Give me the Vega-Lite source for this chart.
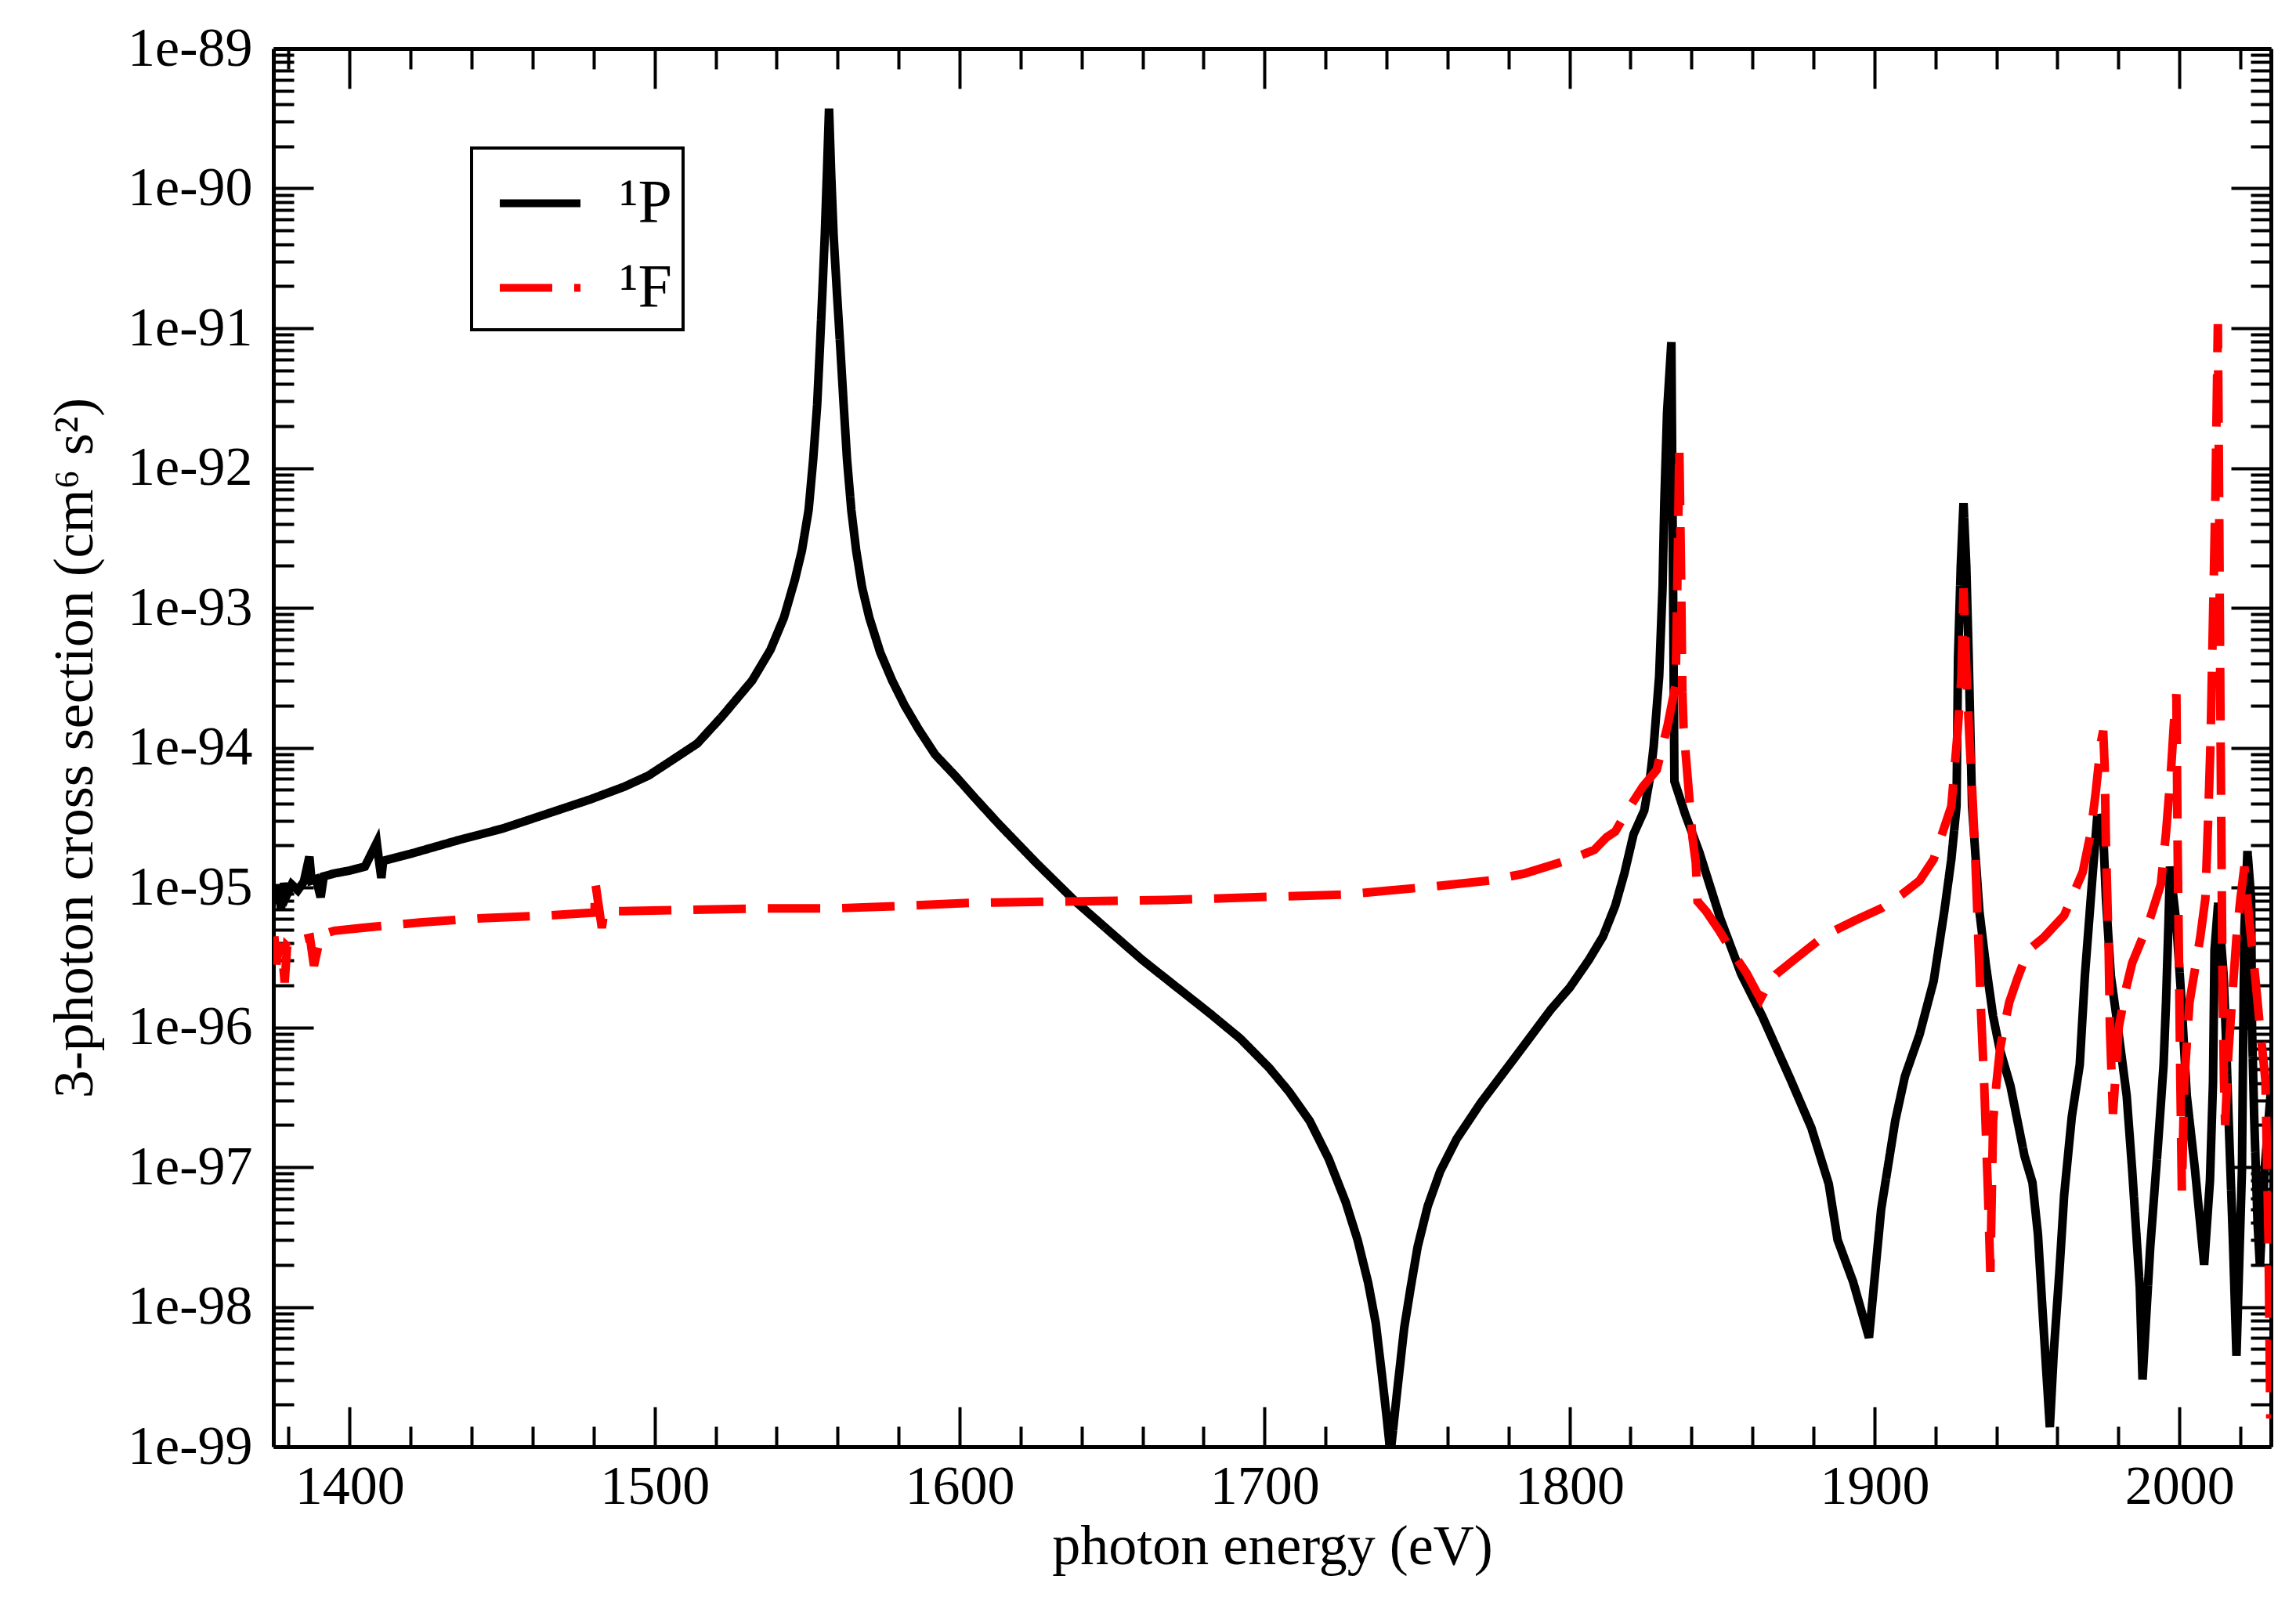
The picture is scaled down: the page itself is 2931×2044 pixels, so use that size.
{
  "$schema": "https://vega.github.io/schema/vega-lite/v6.json",
  "autosize": {"type": "none"},
  "padding": {"left": 349, "top": 62, "right": 32, "bottom": 197},
  "width": 2550,
  "height": 1785,
  "background": "white",
  "datasets": {
    "P": [
      {"E": 1375.5, "s": 7.59e-96, "state": "¹P"},
      {"E": 1376.5, "s": 1.05e-95, "state": "¹P"},
      {"E": 1377.5, "s": 7.08e-96, "state": "¹P"},
      {"E": 1378.5, "s": 1.07e-95, "state": "¹P"},
      {"E": 1379.5, "s": 8.91e-96, "state": "¹P"},
      {"E": 1381, "s": 1.05e-95, "state": "¹P"},
      {"E": 1383, "s": 9.55e-96, "state": "¹P"},
      {"E": 1385, "s": 1.10e-95, "state": "¹P"},
      {"E": 1386.8, "s": 1.66e-95, "state": "¹P"},
      {"E": 1387.5, "s": 1.12e-95, "state": "¹P"},
      {"E": 1389, "s": 1.15e-95, "state": "¹P"},
      {"E": 1390.5, "s": 8.51e-96, "state": "¹P"},
      {"E": 1391.5, "s": 1.20e-95, "state": "¹P"},
      {"E": 1395, "s": 1.26e-95, "state": "¹P"},
      {"E": 1400, "s": 1.32e-95, "state": "¹P"},
      {"E": 1405, "s": 1.41e-95, "state": "¹P"},
      {"E": 1408.9, "s": 2.09e-95, "state": "¹P"},
      {"E": 1409.7, "s": 1.51e-95, "state": "¹P"},
      {"E": 1410.4, "s": 1.17e-95, "state": "¹P"},
      {"E": 1411, "s": 1.55e-95, "state": "¹P"},
      {"E": 1420, "s": 1.74e-95, "state": "¹P"},
      {"E": 1436, "s": 2.19e-95, "state": "¹P"},
      {"E": 1450, "s": 2.63e-95, "state": "¹P"},
      {"E": 1461, "s": 3.16e-95, "state": "¹P"},
      {"E": 1479, "s": 4.27e-95, "state": "¹P"},
      {"E": 1490, "s": 5.25e-95, "state": "¹P"},
      {"E": 1498, "s": 6.31e-95, "state": "¹P"},
      {"E": 1505, "s": 7.94e-95, "state": "¹P"},
      {"E": 1514, "s": 1.07e-94, "state": "¹P"},
      {"E": 1522, "s": 1.66e-94, "state": "¹P"},
      {"E": 1532, "s": 3.02e-94, "state": "¹P"},
      {"E": 1538, "s": 5.01e-94, "state": "¹P"},
      {"E": 1542.4, "s": 8.51e-94, "state": "¹P"},
      {"E": 1546, "s": 1.59e-93, "state": "¹P"},
      {"E": 1548.3, "s": 2.57e-93, "state": "¹P"},
      {"E": 1550.5, "s": 5.01e-93, "state": "¹P"},
      {"E": 1552, "s": 1.15e-92, "state": "¹P"},
      {"E": 1553.3, "s": 2.82e-92, "state": "¹P"},
      {"E": 1554.2, "s": 7.24e-92, "state": "¹P"},
      {"E": 1555, "s": 1.78e-91, "state": "¹P"},
      {"E": 1555.8, "s": 4.57e-91, "state": "¹P"},
      {"E": 1556.5, "s": 1.26e-90, "state": "¹P"},
      {"E": 1557.2, "s": 3.72e-90, "state": "¹P"},
      {"E": 1557.9, "s": 1.26e-90, "state": "¹P"},
      {"E": 1558.7, "s": 4.57e-91, "state": "¹P"},
      {"E": 1559.8, "s": 1.78e-91, "state": "¹P"},
      {"E": 1560.9, "s": 7.24e-92, "state": "¹P"},
      {"E": 1562, "s": 2.82e-92, "state": "¹P"},
      {"E": 1563.1, "s": 1.15e-92, "state": "¹P"},
      {"E": 1564.5, "s": 5.01e-93, "state": "¹P"},
      {"E": 1566.1, "s": 2.57e-93, "state": "¹P"},
      {"E": 1568, "s": 1.41e-93, "state": "¹P"},
      {"E": 1570.4, "s": 8.51e-94, "state": "¹P"},
      {"E": 1574, "s": 4.79e-94, "state": "¹P"},
      {"E": 1577.9, "s": 3.02e-94, "state": "¹P"},
      {"E": 1582, "s": 2.00e-94, "state": "¹P"},
      {"E": 1586.6, "s": 1.35e-94, "state": "¹P"},
      {"E": 1592, "s": 8.91e-95, "state": "¹P"},
      {"E": 1598.5, "s": 6.31e-95, "state": "¹P"},
      {"E": 1605, "s": 4.37e-95, "state": "¹P"},
      {"E": 1613, "s": 2.82e-95, "state": "¹P"},
      {"E": 1625, "s": 1.51e-95, "state": "¹P"},
      {"E": 1638, "s": 7.94e-96, "state": "¹P"},
      {"E": 1650, "s": 4.68e-96, "state": "¹P"},
      {"E": 1660, "s": 3.02e-96, "state": "¹P"},
      {"E": 1671, "s": 1.95e-96, "state": "¹P"},
      {"E": 1682, "s": 1.26e-96, "state": "¹P"},
      {"E": 1692, "s": 8.32e-97, "state": "¹P"},
      {"E": 1701.5, "s": 5.13e-97, "state": "¹P"},
      {"E": 1708, "s": 3.47e-97, "state": "¹P"},
      {"E": 1714.8, "s": 2.14e-97, "state": "¹P"},
      {"E": 1721, "s": 1.15e-97, "state": "¹P"},
      {"E": 1726.6, "s": 5.62e-98, "state": "¹P"},
      {"E": 1730.5, "s": 3.02e-98, "state": "¹P"},
      {"E": 1734, "s": 1.48e-98, "state": "¹P"},
      {"E": 1736.5, "s": 7.59e-99, "state": "¹P"},
      {"E": 1738.4, "s": 3.39e-99, "state": "¹P"},
      {"E": 1740, "s": 1.66e-99, "state": "¹P"},
      {"E": 1741.3, "s": 8.91e-100, "state": "¹P"},
      {"E": 1743.5, "s": 2.51e-99, "state": "¹P"},
      {"E": 1745.8, "s": 7.08e-99, "state": "¹P"},
      {"E": 1748, "s": 1.41e-98, "state": "¹P"},
      {"E": 1750.2, "s": 2.69e-98, "state": "¹P"},
      {"E": 1753.5, "s": 5.25e-98, "state": "¹P"},
      {"E": 1757.6, "s": 9.33e-98, "state": "¹P"},
      {"E": 1763, "s": 1.59e-97, "state": "¹P"},
      {"E": 1770.9, "s": 2.88e-97, "state": "¹P"},
      {"E": 1782, "s": 6.03e-97, "state": "¹P"},
      {"E": 1794, "s": 1.35e-96, "state": "¹P"},
      {"E": 1800, "s": 1.91e-96, "state": "¹P"},
      {"E": 1806.3, "s": 3.02e-96, "state": "¹P"},
      {"E": 1811, "s": 4.47e-96, "state": "¹P"},
      {"E": 1815, "s": 7.41e-96, "state": "¹P"},
      {"E": 1818, "s": 1.26e-95, "state": "¹P"},
      {"E": 1821, "s": 2.40e-95, "state": "¹P"},
      {"E": 1824.5, "s": 3.55e-95, "state": "¹P"},
      {"E": 1826.5, "s": 6.31e-95, "state": "¹P"},
      {"E": 1827.6, "s": 1.02e-94, "state": "¹P"},
      {"E": 1829.4, "s": 3.24e-94, "state": "¹P"},
      {"E": 1830.5, "s": 1.38e-93, "state": "¹P"},
      {"E": 1831.1, "s": 5.75e-93, "state": "¹P"},
      {"E": 1832, "s": 2.51e-92, "state": "¹P"},
      {"E": 1833.4, "s": 7.94e-92, "state": "¹P"},
      {"E": 1834.4, "s": 5.75e-95, "state": "¹P"},
      {"E": 1836.2, "s": 4.37e-95, "state": "¹P"},
      {"E": 1838, "s": 3.31e-95, "state": "¹P"},
      {"E": 1842.6, "s": 1.78e-95, "state": "¹P"},
      {"E": 1849.4, "s": 6.03e-96, "state": "¹P"},
      {"E": 1856.3, "s": 2.40e-96, "state": "¹P"},
      {"E": 1863.2, "s": 1.20e-96, "state": "¹P"},
      {"E": 1872.4, "s": 4.27e-97, "state": "¹P"},
      {"E": 1879.3, "s": 1.91e-97, "state": "¹P"},
      {"E": 1885, "s": 7.59e-98, "state": "¹P"},
      {"E": 1887.9, "s": 3.02e-98, "state": "¹P"},
      {"E": 1893, "s": 1.51e-98, "state": "¹P"},
      {"E": 1898.2, "s": 6.03e-99, "state": "¹P"},
      {"E": 1902.2, "s": 5.01e-98, "state": "¹P"},
      {"E": 1906.8, "s": 2.14e-97, "state": "¹P"},
      {"E": 1910, "s": 4.47e-97, "state": "¹P"},
      {"E": 1914.8, "s": 8.91e-97, "state": "¹P"},
      {"E": 1919.4, "s": 2.14e-96, "state": "¹P"},
      {"E": 1922.9, "s": 6.76e-96, "state": "¹P"},
      {"E": 1925.2, "s": 1.59e-95, "state": "¹P"},
      {"E": 1926.9, "s": 3.80e-95, "state": "¹P"},
      {"E": 1927.4, "s": 4.37e-94, "state": "¹P"},
      {"E": 1928.3, "s": 2.00e-93, "state": "¹P"},
      {"E": 1929.2, "s": 5.62e-93, "state": "¹P"},
      {"E": 1930.1, "s": 2.00e-93, "state": "¹P"},
      {"E": 1930.9, "s": 4.37e-94, "state": "¹P"},
      {"E": 1932, "s": 3.80e-95, "state": "¹P"},
      {"E": 1934.4, "s": 6.76e-96, "state": "¹P"},
      {"E": 1936.5, "s": 2.82e-96, "state": "¹P"},
      {"E": 1938.9, "s": 1.20e-96, "state": "¹P"},
      {"E": 1941, "s": 7.08e-97, "state": "¹P"},
      {"E": 1944.6, "s": 3.80e-97, "state": "¹P"},
      {"E": 1949.2, "s": 1.20e-97, "state": "¹P"},
      {"E": 1951.8, "s": 7.76e-98, "state": "¹P"},
      {"E": 1953.6, "s": 3.31e-98, "state": "¹P"},
      {"E": 1955.4, "s": 7.41e-99, "state": "¹P"},
      {"E": 1957.5, "s": 1.38e-99, "state": "¹P"},
      {"E": 1958.8, "s": 4.79e-99, "state": "¹P"},
      {"E": 1960.6, "s": 1.74e-98, "state": "¹P"},
      {"E": 1962.2, "s": 6.31e-98, "state": "¹P"},
      {"E": 1964.7, "s": 2.29e-97, "state": "¹P"},
      {"E": 1967.3, "s": 5.37e-97, "state": "¹P"},
      {"E": 1969, "s": 2.34e-96, "state": "¹P"},
      {"E": 1971.6, "s": 1.29e-95, "state": "¹P"},
      {"E": 1973.1, "s": 3.31e-95, "state": "¹P"},
      {"E": 1975, "s": 2.45e-95, "state": "¹P"},
      {"E": 1975.9, "s": 8.32e-96, "state": "¹P"},
      {"E": 1977.5, "s": 2.34e-96, "state": "¹P"},
      {"E": 1979.5, "s": 1.12e-96, "state": "¹P"},
      {"E": 1981.1, "s": 6.03e-97, "state": "¹P"},
      {"E": 1982.7, "s": 3.24e-97, "state": "¹P"},
      {"E": 1984.5, "s": 9.55e-98, "state": "¹P"},
      {"E": 1987, "s": 1.38e-98, "state": "¹P"},
      {"E": 1987.9, "s": 3.02e-99, "state": "¹P"},
      {"E": 1990.4, "s": 2.63e-98, "state": "¹P"},
      {"E": 1993, "s": 1.48e-97, "state": "¹P"},
      {"E": 1994.8, "s": 5.37e-97, "state": "¹P"},
      {"E": 1995.6, "s": 1.51e-96, "state": "¹P"},
      {"E": 1996.4, "s": 5.50e-96, "state": "¹P"},
      {"E": 1996.9, "s": 1.41e-95, "state": "¹P"},
      {"E": 1999, "s": 5.50e-96, "state": "¹P"},
      {"E": 2000.7, "s": 1.51e-96, "state": "¹P"},
      {"E": 2002.4, "s": 3.24e-97, "state": "¹P"},
      {"E": 2005.1, "s": 9.55e-98, "state": "¹P"},
      {"E": 2008.1, "s": 2.00e-98, "state": "¹P"},
      {"E": 2010, "s": 7.94e-98, "state": "¹P"},
      {"E": 2011, "s": 3.98e-97, "state": "¹P"},
      {"E": 2011.5, "s": 3.55e-96, "state": "¹P"},
      {"E": 2012.7, "s": 7.76e-96, "state": "¹P"},
      {"E": 2014.5, "s": 2.34e-96, "state": "¹P"},
      {"E": 2015.3, "s": 7.94e-97, "state": "¹P"},
      {"E": 2016.1, "s": 2.29e-97, "state": "¹P"},
      {"E": 2017.5, "s": 3.16e-98, "state": "¹P"},
      {"E": 2018.7, "s": 4.47e-99, "state": "¹P"},
      {"E": 2020.5, "s": 9.55e-98, "state": "¹P"},
      {"E": 2020.8, "s": 5.01e-97, "state": "¹P"},
      {"E": 2021.3, "s": 5.01e-96, "state": "¹P"},
      {"E": 2022.3, "s": 1.82e-95, "state": "¹P"},
      {"E": 2023.5, "s": 8.32e-96, "state": "¹P"},
      {"E": 2023.8, "s": 1.00e-96, "state": "¹P"},
      {"E": 2024.5, "s": 2.29e-97, "state": "¹P"},
      {"E": 2025.6, "s": 4.07e-98, "state": "¹P"},
      {"E": 2026.4, "s": 1.95e-98, "state": "¹P"},
      {"E": 2028, "s": 1.00e-97, "state": "¹P"},
      {"E": 2030, "s": 3.55e-97, "state": "¹P"}
    ],
    "F": [
      {"E": 1375.3, "s": 4.47e-96, "state": "¹F"},
      {"E": 1376, "s": 2.82e-96, "state": "¹F"},
      {"E": 1377, "s": 3.98e-96, "state": "¹F"},
      {"E": 1378, "s": 3.16e-96, "state": "¹F"},
      {"E": 1378.7, "s": 2.09e-96, "state": "¹F"},
      {"E": 1379.5, "s": 3.80e-96, "state": "¹F"},
      {"E": 1381, "s": 3.55e-96, "state": "¹F"},
      {"E": 1383, "s": 3.98e-96, "state": "¹F"},
      {"E": 1385, "s": 4.27e-96, "state": "¹F"},
      {"E": 1387, "s": 4.37e-96, "state": "¹F"},
      {"E": 1388.3, "s": 2.75e-96, "state": "¹F"},
      {"E": 1390.5, "s": 4.57e-96, "state": "¹F"},
      {"E": 1395, "s": 4.90e-96, "state": "¹F"},
      {"E": 1403.8, "s": 5.13e-96, "state": "¹F"},
      {"E": 1423, "s": 5.62e-96, "state": "¹F"},
      {"E": 1443.6, "s": 6.03e-96, "state": "¹F"},
      {"E": 1465.7, "s": 6.31e-96, "state": "¹F"},
      {"E": 1480.3, "s": 6.61e-96, "state": "¹F"},
      {"E": 1480.6, "s": 1.07e-95, "state": "¹F"},
      {"E": 1482.7, "s": 5.13e-96, "state": "¹F"},
      {"E": 1483.5, "s": 6.76e-96, "state": "¹F"},
      {"E": 1489.3, "s": 6.76e-96, "state": "¹F"},
      {"E": 1535, "s": 7.08e-96, "state": "¹F"},
      {"E": 1558.7, "s": 7.08e-96, "state": "¹F"},
      {"E": 1583.8, "s": 7.41e-96, "state": "¹F"},
      {"E": 1603, "s": 7.76e-96, "state": "¹F"},
      {"E": 1667.6, "s": 8.13e-96, "state": "¹F"},
      {"E": 1726.6, "s": 8.91e-96, "state": "¹F"},
      {"E": 1756.1, "s": 1.02e-95, "state": "¹F"},
      {"E": 1773.7, "s": 1.12e-95, "state": "¹F"},
      {"E": 1785.4, "s": 1.26e-95, "state": "¹F"},
      {"E": 1800.2, "s": 1.59e-95, "state": "¹F"},
      {"E": 1808.2, "s": 1.86e-95, "state": "¹F"},
      {"E": 1812.2, "s": 2.29e-95, "state": "¹F"},
      {"E": 1815, "s": 2.51e-95, "state": "¹F"},
      {"E": 1819, "s": 3.55e-95, "state": "¹F"},
      {"E": 1824, "s": 5.25e-95, "state": "¹F"},
      {"E": 1828.6, "s": 6.92e-95, "state": "¹F"},
      {"E": 1832.2, "s": 1.45e-94, "state": "¹F"},
      {"E": 1834.8, "s": 2.82e-94, "state": "¹F"},
      {"E": 1835.6, "s": 3.16e-93, "state": "¹F"},
      {"E": 1836, "s": 1.41e-92, "state": "¹F"},
      {"E": 1836.6, "s": 1.59e-93, "state": "¹F"},
      {"E": 1837, "s": 2.51e-94, "state": "¹F"},
      {"E": 1837.4, "s": 1.38e-94, "state": "¹F"},
      {"E": 1839.7, "s": 3.39e-95, "state": "¹F"},
      {"E": 1840.3, "s": 2.29e-95, "state": "¹F"},
      {"E": 1841.4, "s": 1.51e-95, "state": "¹F"},
      {"E": 1842, "s": 7.94e-96, "state": "¹F"},
      {"E": 1844.8, "s": 6.76e-96, "state": "¹F"},
      {"E": 1849.4, "s": 4.79e-96, "state": "¹F"},
      {"E": 1853, "s": 3.55e-96, "state": "¹F"},
      {"E": 1858, "s": 2.45e-96, "state": "¹F"},
      {"E": 1862.6, "s": 1.59e-96, "state": "¹F"},
      {"E": 1865, "s": 2.00e-96, "state": "¹F"},
      {"E": 1867.8, "s": 2.40e-96, "state": "¹F"},
      {"E": 1873.5, "s": 3.02e-96, "state": "¹F"},
      {"E": 1883.9, "s": 4.57e-96, "state": "¹F"},
      {"E": 1894.2, "s": 5.89e-96, "state": "¹F"},
      {"E": 1902.2, "s": 7.08e-96, "state": "¹F"},
      {"E": 1909, "s": 8.91e-96, "state": "¹F"},
      {"E": 1914.8, "s": 1.12e-95, "state": "¹F"},
      {"E": 1919.4, "s": 1.59e-95, "state": "¹F"},
      {"E": 1922.9, "s": 2.69e-95, "state": "¹F"},
      {"E": 1925.2, "s": 3.80e-95, "state": "¹F"},
      {"E": 1927, "s": 1.10e-94, "state": "¹F"},
      {"E": 1928.5, "s": 3.16e-94, "state": "¹F"},
      {"E": 1929.2, "s": 1.38e-93, "state": "¹F"},
      {"E": 1930.2, "s": 3.16e-94, "state": "¹F"},
      {"E": 1931.2, "s": 1.10e-94, "state": "¹F"},
      {"E": 1932, "s": 5.13e-95, "state": "¹F"},
      {"E": 1932.9, "s": 2.00e-95, "state": "¹F"},
      {"E": 1933.8, "s": 6.03e-96, "state": "¹F"},
      {"E": 1934.9, "s": 1.35e-96, "state": "¹F"},
      {"E": 1936, "s": 3.80e-97, "state": "¹F"},
      {"E": 1937.2, "s": 6.76e-98, "state": "¹F"},
      {"E": 1938, "s": 1.78e-98, "state": "¹F"},
      {"E": 1938.9, "s": 2.14e-97, "state": "¹F"},
      {"E": 1940, "s": 3.98e-97, "state": "¹F"},
      {"E": 1941.2, "s": 7.08e-97, "state": "¹F"},
      {"E": 1942.5, "s": 1.00e-96, "state": "¹F"},
      {"E": 1944.2, "s": 1.51e-96, "state": "¹F"},
      {"E": 1946.9, "s": 2.24e-96, "state": "¹F"},
      {"E": 1950.4, "s": 3.55e-96, "state": "¹F"},
      {"E": 1955.4, "s": 4.37e-96, "state": "¹F"},
      {"E": 1962.2, "s": 6.31e-96, "state": "¹F"},
      {"E": 1968.3, "s": 1.29e-95, "state": "¹F"},
      {"E": 1970.9, "s": 2.45e-95, "state": "¹F"},
      {"E": 1972.5, "s": 4.68e-95, "state": "¹F"},
      {"E": 1974.3, "s": 1.10e-94, "state": "¹F"},
      {"E": 1975, "s": 1.32e-94, "state": "¹F"},
      {"E": 1975.5, "s": 7.24e-95, "state": "¹F"},
      {"E": 1975.9, "s": 2.00e-95, "state": "¹F"},
      {"E": 1976.8, "s": 3.55e-96, "state": "¹F"},
      {"E": 1977.2, "s": 1.00e-96, "state": "¹F"},
      {"E": 1978.2, "s": 2.40e-97, "state": "¹F"},
      {"E": 1979.2, "s": 5.01e-97, "state": "¹F"},
      {"E": 1980.1, "s": 1.00e-96, "state": "¹F"},
      {"E": 1982.4, "s": 1.86e-96, "state": "¹F"},
      {"E": 1984.5, "s": 2.88e-96, "state": "¹F"},
      {"E": 1987.9, "s": 4.37e-96, "state": "¹F"},
      {"E": 1990.4, "s": 6.03e-96, "state": "¹F"},
      {"E": 1993.9, "s": 1.05e-95, "state": "¹F"},
      {"E": 1995.6, "s": 2.45e-95, "state": "¹F"},
      {"E": 1997.3, "s": 7.24e-95, "state": "¹F"},
      {"E": 1998.6, "s": 2.09e-94, "state": "¹F"},
      {"E": 1999, "s": 2.40e-94, "state": "¹F"},
      {"E": 1999.4, "s": 2.00e-95, "state": "¹F"},
      {"E": 1999.9, "s": 2.34e-96, "state": "¹F"},
      {"E": 2000.3, "s": 4.17e-97, "state": "¹F"},
      {"E": 2000.8, "s": 6.76e-98, "state": "¹F"},
      {"E": 2001.6, "s": 4.17e-97, "state": "¹F"},
      {"E": 2003.3, "s": 1.51e-96, "state": "¹F"},
      {"E": 2006.8, "s": 4.37e-96, "state": "¹F"},
      {"E": 2008.5, "s": 8.32e-96, "state": "¹F"},
      {"E": 2009.4, "s": 3.02e-95, "state": "¹F"},
      {"E": 2010.2, "s": 1.10e-94, "state": "¹F"},
      {"E": 2010.8, "s": 5.01e-94, "state": "¹F"},
      {"E": 2011.8, "s": 6.31e-93, "state": "¹F"},
      {"E": 2012.6, "s": 1.07e-91, "state": "¹F"},
      {"E": 2013, "s": 6.31e-93, "state": "¹F"},
      {"E": 2013.5, "s": 1.10e-94, "state": "¹F"},
      {"E": 2014.1, "s": 2.34e-96, "state": "¹F"},
      {"E": 2014.6, "s": 4.17e-97, "state": "¹F"},
      {"E": 2015, "s": 2.00e-97, "state": "¹F"},
      {"E": 2016, "s": 6.31e-97, "state": "¹F"},
      {"E": 2017.2, "s": 1.51e-96, "state": "¹F"},
      {"E": 2018.7, "s": 4.37e-96, "state": "¹F"},
      {"E": 2020, "s": 8.32e-96, "state": "¹F"},
      {"E": 2021.3, "s": 1.41e-95, "state": "¹F"},
      {"E": 2023, "s": 5.50e-96, "state": "¹F"},
      {"E": 2024.8, "s": 2.34e-96, "state": "¹F"},
      {"E": 2026.4, "s": 1.00e-96, "state": "¹F"},
      {"E": 2028.2, "s": 4.17e-97, "state": "¹F"},
      {"E": 2029.2, "s": 3.16e-98, "state": "¹F"},
      {"E": 2029.8, "s": 1.59e-99, "state": "¹F"}
    ]
  },
  "layer": [
    {
      "data": {"name": "P"},
      "mark": {"type": "line", "strokeWidth": 11, "clip": true},
      "encoding": {
        "x": {
          "field": "E",
          "type": "quantitative",
          "scale": {"domain": [1375, 2030], "nice": false, "zero": false},
          "axis": {
            "orient": "bottom",
            "title": "photon energy (eV)",
            "values": [1380, 1400, 1420, 1440, 1460, 1480, 1500, 1520, 1540, 1560, 1580, 1600, 1620, 1640, 1660, 1680, 1700, 1720, 1740, 1760, 1780, 1800, 1820, 1840, 1860, 1880, 1900, 1920, 1940, 1960, 1980, 2000, 2020],
            "labelExpr": "datum.value % 100 === 0 ? '' + datum.value : ''",
            "tickSize": {"condition": {"test": "datum.value % 100 === 0", "value": -51}, "value": -26},
            "labelPadding": 68,
            "titlePadding": -19
          }
        },
        "y": {
          "field": "s",
          "type": "quantitative",
          "scale": {"type": "log", "domain": [1e-99, 1e-89], "nice": false},
          "axis": {
            "orient": "left",
            "title": "3-photon cross section (cm⁶ s²)",
            "values": [1e-99, 2e-99, 3e-99, 4e-99, 5e-99, 6e-99, 7e-99, 8e-99, 9e-99, 1e-98, 2e-98, 3e-98, 4e-98, 5e-98, 6e-98, 7e-98, 8e-98, 9e-98, 1e-97, 2e-97, 3e-97, 4e-97, 5e-97, 6e-97, 7e-97, 8e-97, 9e-97, 1e-96, 2e-96, 3e-96, 4e-96, 5e-96, 6e-96, 7e-96, 8e-96, 9e-96, 1e-95, 2e-95, 3e-95, 4e-95, 5e-95, 6e-95, 7e-95, 8e-95, 9e-95, 1e-94, 2e-94, 3e-94, 4e-94, 5e-94, 6e-94, 7e-94, 8e-94, 9e-94, 1e-93, 2e-93, 3e-93, 4e-93, 5e-93, 6e-93, 7e-93, 8e-93, 9e-93, 1e-92, 2e-92, 3e-92, 4e-92, 5e-92, 6e-92, 7e-92, 8e-92, 9e-92, 1e-91, 2e-91, 3e-91, 4e-91, 5e-91, 6e-91, 7e-91, 8e-91, 9e-91, 1e-90, 2e-90, 3e-90, 4e-90, 5e-90, 6e-90, 7e-90, 8e-90, 9e-90, 1e-89],
            "labelExpr": "abs(log(datum.value) / LN10 - round(log(datum.value) / LN10)) < 0.001 ? '1e' + round(log(datum.value) / LN10) : ''",
            "tickSize": {"condition": {"test": "abs(log(datum.value) / LN10 - round(log(datum.value) / LN10)) < 0.001", "value": -51}, "value": -26},
            "labelPadding": 78,
            "titlePadding": 30
          }
        },
        "color": {
          "field": "state",
          "type": "nominal",
          "scale": {"domain": ["¹P", "¹F"], "range": ["#000000", "#ff0000"]},
          "legend": {"title": null}
        },
        "strokeDash": {
          "field": "state",
          "type": "nominal",
          "scale": {"domain": ["¹P", "¹F"], "range": [[1, 0], [67, 28]]},
          "legend": {"title": null}
        }
      }
    },
    {
      "data": {"name": "F"},
      "mark": {"type": "line", "strokeWidth": 11, "clip": true},
      "encoding": {
        "x": {
          "field": "E",
          "type": "quantitative",
          "axis": {
            "orient": "top",
            "title": null,
            "labels": false,
            "values": [1380, 1400, 1420, 1440, 1460, 1480, 1500, 1520, 1540, 1560, 1580, 1600, 1620, 1640, 1660, 1680, 1700, 1720, 1740, 1760, 1780, 1800, 1820, 1840, 1860, 1880, 1900, 1920, 1940, 1960, 1980, 2000, 2020],
            "tickSize": {"condition": {"test": "datum.value % 100 === 0", "value": -51}, "value": -26}
          }
        },
        "y": {
          "field": "s",
          "type": "quantitative",
          "axis": {
            "orient": "right",
            "title": null,
            "labels": false,
            "values": [1e-99, 2e-99, 3e-99, 4e-99, 5e-99, 6e-99, 7e-99, 8e-99, 9e-99, 1e-98, 2e-98, 3e-98, 4e-98, 5e-98, 6e-98, 7e-98, 8e-98, 9e-98, 1e-97, 2e-97, 3e-97, 4e-97, 5e-97, 6e-97, 7e-97, 8e-97, 9e-97, 1e-96, 2e-96, 3e-96, 4e-96, 5e-96, 6e-96, 7e-96, 8e-96, 9e-96, 1e-95, 2e-95, 3e-95, 4e-95, 5e-95, 6e-95, 7e-95, 8e-95, 9e-95, 1e-94, 2e-94, 3e-94, 4e-94, 5e-94, 6e-94, 7e-94, 8e-94, 9e-94, 1e-93, 2e-93, 3e-93, 4e-93, 5e-93, 6e-93, 7e-93, 8e-93, 9e-93, 1e-92, 2e-92, 3e-92, 4e-92, 5e-92, 6e-92, 7e-92, 8e-92, 9e-92, 1e-91, 2e-91, 3e-91, 4e-91, 5e-91, 6e-91, 7e-91, 8e-91, 9e-91, 1e-90, 2e-90, 3e-90, 4e-90, 5e-90, 6e-90, 7e-90, 8e-90, 9e-90, 1e-89],
            "tickSize": {"condition": {"test": "abs(log(datum.value) / LN10 - round(log(datum.value) / LN10)) < 0.001", "value": -51}, "value": -26}
          }
        },
        "color": {"field": "state", "type": "nominal"},
        "strokeDash": {"field": "state", "type": "nominal"}
      }
    }
  ],
  "resolve": {"axis": {"x": "independent", "y": "independent"}},
  "config": {
    "view": {"stroke": null},
    "font": "Liberation Serif",
    "axis": {
      "grid": false,
      "labelFont": "Liberation Serif",
      "labelFontSize": 70,
      "labelColor": "#000000",
      "labelOverlap": false,
      "labelFlush": false,
      "titleFont": "Liberation Serif",
      "titleFontSize": 72,
      "titleFontWeight": "normal",
      "titleColor": "#000000",
      "domainColor": "#000000",
      "domainWidth": 5,
      "tickColor": "#000000",
      "tickWidth": 4
    },
    "legend": {
      "orient": "none",
      "legendX": 253,
      "legendY": 127,
      "direction": "vertical",
      "fillColor": "#ffffff",
      "strokeColor": "#000000",
      "strokeWidth": 4,
      "padding": 14,
      "symbolOffset": 17,
      "symbolType": "stroke",
      "symbolSize": 10609,
      "symbolStrokeWidth": 10,
      "labelFont": "Liberation Serif",
      "labelFontSize": 78,
      "labelColor": "#000000",
      "labelOffset": 45,
      "rowPadding": 12
    }
  }
}
